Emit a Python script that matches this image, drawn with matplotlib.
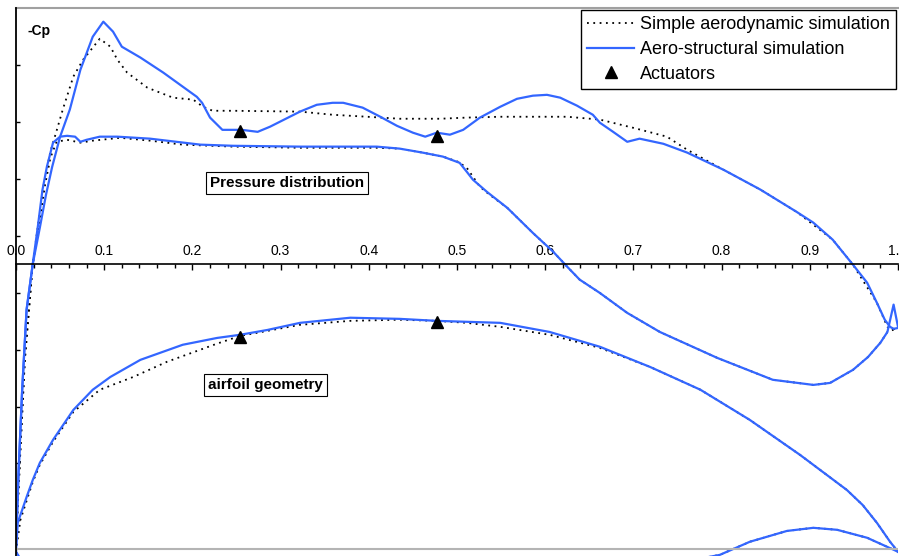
import numpy as np
import matplotlib
matplotlib.use("Agg")
import matplotlib.pyplot as plt
from matplotlib.ticker import MultipleLocator, FormatStrFormatter
from matplotlib.lines import Line2D

plt.rcParams['font.family'] = ['Liberation Sans', 'DejaVu Sans']

BLUE = '#3366ff'

# ---- pressure distribution (-Cp) ----
# aero-structural, suction side
x_cp_up_struct = [0, 0.003, 0.007, 0.012, 0.019, 0.027, 0.034, 0.041, 0.050, 0.061,
                  0.073, 0.087, 0.099, 0.110, 0.120, 0.141, 0.167, 0.205, 0.211, 0.220,
                  0.234, 0.256, 0.274, 0.288, 0.322, 0.341, 0.359, 0.371, 0.393, 0.413,
                  0.432, 0.450, 0.464, 0.477, 0.492, 0.507, 0.526, 0.549, 0.568, 0.586,
                  0.602, 0.617, 0.636, 0.654, 0.662, 0.677, 0.693, 0.707, 0.734, 0.761,
                  0.802, 0.844, 0.885, 0.904, 0.926, 0.949, 0.965, 0.976, 0.985, 0.991,
                  0.995, 1.0]
cp_up_struct = [-0.986, -0.723, -0.441, -0.160, 0.001, 0.128, 0.244, 0.342, 0.448, 0.543,
                0.683, 0.799, 0.852, 0.817, 0.764, 0.726, 0.673, 0.588, 0.567, 0.515,
                0.472, 0.472, 0.465, 0.483, 0.536, 0.560, 0.567, 0.567, 0.550, 0.518,
                0.486, 0.462, 0.448, 0.462, 0.455, 0.472, 0.515, 0.553, 0.581, 0.592,
                0.595, 0.585, 0.557, 0.525, 0.497, 0.465, 0.430, 0.441, 0.423, 0.392,
                0.332, 0.262, 0.184, 0.146, 0.086, -0.002, -0.065, -0.135, -0.195, -0.220,
                -0.227, -0.224]

# aero-structural, pressure side
x_cp_lo_struct = [0, 0.003, 0.007, 0.012, 0.019, 0.025, 0.030, 0.035, 0.042, 0.050,
                  0.058, 0.067, 0.073, 0.080, 0.095, 0.115, 0.152, 0.209, 0.246, 0.322,
                  0.359, 0.409, 0.435, 0.461, 0.484, 0.503, 0.511, 0.518, 0.534, 0.557,
                  0.586, 0.609, 0.625, 0.639, 0.662, 0.693, 0.730, 0.795, 0.858, 0.904,
                  0.923, 0.949, 0.966, 0.980, 0.988, 0.995, 1.0]
cp_lo_struct = [-0.986, -0.723, -0.441, -0.160, 0.001, 0.138, 0.261, 0.342, 0.427, 0.448,
                0.451, 0.448, 0.430, 0.437, 0.448, 0.448, 0.441, 0.420, 0.416, 0.413,
                0.413, 0.413, 0.406, 0.392, 0.378, 0.356, 0.325, 0.297, 0.254, 0.198,
                0.110, 0.044, -0.009, -0.054, -0.101, -0.171, -0.238, -0.329, -0.406, -0.424,
                -0.417, -0.371, -0.326, -0.276, -0.238, -0.142, -0.220]

# simple aerodynamic, suction side
x_cp_up_simple = [0, 0.005, 0.010, 0.019, 0.031, 0.039, 0.047, 0.053, 0.065, 0.076,
                  0.095, 0.107, 0.115, 0.126, 0.149, 0.178, 0.201, 0.212, 0.223, 0.246,
                  0.322, 0.359, 0.398, 0.435, 0.481, 0.511, 0.549, 0.586, 0.625, 0.662,
                  0.700, 0.738, 0.761, 0.802, 0.844, 0.885, 0.926, 0.949, 0.976, 0.988,
                  1.0]
cp_up_simple = [-0.986, -0.652, -0.336, 0.001, 0.272, 0.395, 0.479, 0.543, 0.659, 0.718,
                0.792, 0.764, 0.718, 0.673, 0.620, 0.585, 0.578, 0.553, 0.539, 0.539,
                0.536, 0.525, 0.518, 0.511, 0.511, 0.515, 0.518, 0.518, 0.518, 0.508,
                0.479, 0.448, 0.402, 0.332, 0.262, 0.184, 0.086, -0.002, -0.135, -0.220,
                -0.231]

# simple aerodynamic, pressure side
x_cp_lo_simple = [0, 0.005, 0.010, 0.019, 0.033, 0.039, 0.046, 0.058, 0.073, 0.087,
                  0.118, 0.152, 0.189, 0.246, 0.322, 0.409, 0.435, 0.461, 0.484, 0.501,
                  0.511, 0.526, 0.537, 0.557, 0.586, 0.609, 0.625, 0.639, 0.662, 0.693,
                  0.730, 0.795, 0.858, 0.904, 0.923, 0.949, 0.966, 0.980, 0.988, 1.0]
cp_lo_simple = [-0.986, -0.652, -0.336, 0.001, 0.279, 0.374, 0.430, 0.437, 0.427, 0.434,
                0.444, 0.434, 0.420, 0.413, 0.409, 0.409, 0.406, 0.392, 0.378, 0.360,
                0.339, 0.272, 0.244, 0.198, 0.110, 0.044, -0.009, -0.054, -0.101, -0.171,
                -0.238, -0.329, -0.406, -0.424, -0.417, -0.371, -0.326, -0.276, -0.238, -0.224]

# ---- airfoil geometry (drawn on the same scale) ----
x_geo_up_struct = [0, 0.002, 0.012, 0.019, 0.027, 0.042, 0.065, 0.087, 0.107, 0.141,
                   0.189, 0.228, 0.254, 0.285, 0.322, 0.379, 0.435, 0.477, 0.549, 0.605,
                   0.662, 0.719, 0.776, 0.832, 0.889, 0.942, 0.960, 0.976, 0.991, 1.0]
geo_up_struct = [-1.010, -0.908, -0.818, -0.758, -0.698, -0.617, -0.512, -0.441, -0.396, -0.336,
                 -0.283, -0.259, -0.248, -0.231, -0.206, -0.188, -0.192, -0.199, -0.206, -0.238,
                 -0.290, -0.361, -0.441, -0.547, -0.670, -0.793, -0.846, -0.908, -0.975, -1.010]

x_geo_up_simple = [0, 0.005, 0.019, 0.027, 0.042, 0.065, 0.095, 0.133, 0.171, 0.228,
                   0.254, 0.322, 0.379, 0.435, 0.477, 0.511, 0.549, 0.605, 0.662, 0.719,
                   0.776, 0.832, 0.889, 0.942, 0.960, 0.976, 0.991, 1.0]
geo_up_simple = [-1.010, -0.898, -0.765, -0.705, -0.624, -0.519, -0.441, -0.396, -0.343, -0.279,
                 -0.252, -0.213, -0.199, -0.195, -0.199, -0.206, -0.220, -0.248, -0.294, -0.361,
                 -0.441, -0.547, -0.670, -0.793, -0.846, -0.908, -0.975, -1.010]

x_geo_lo = [0, 0.01, 0.05, 0.2, 0.45, 0.7, 0.75, 0.798, 0.832, 0.874, 0.904, 0.931, 0.965, 1.0]
geo_lo_struct = [-1.010, -1.06, -1.12, -1.16, -1.15, -1.07, -1.05, -1.021, -0.975, -0.937,
                 -0.926, -0.933, -0.961, -1.010]
geo_lo_simple = [-1.010, -1.06, -1.12, -1.16, -1.15, -1.07, -1.05, -1.021, -0.975, -0.937,
                 -0.926, -0.933, -0.961, -1.010]

# actuators
x_act = [0.254, 0.477]
cp_act = [0.469, 0.451]
geo_act = [-0.255, -0.203]

fig = plt.figure(figsize=(8.99, 5.56), dpi=100)
ax = fig.add_axes([16 / 899, 0, 882 / 899, 548 / 556])

dot = (0, (1, 2.5))
for xs, ys in [(x_cp_up_simple, cp_up_simple), (x_cp_lo_simple, cp_lo_simple),
               (x_geo_up_simple, geo_up_simple), (x_geo_lo, geo_lo_simple)]:
    ax.plot(xs, ys, color='black', lw=1.3, ls=dot)
for xs, ys in [(x_cp_up_struct, cp_up_struct), (x_cp_lo_struct, cp_lo_struct),
               (x_geo_up_struct, geo_up_struct), (x_geo_lo, geo_lo_struct)]:
    ax.plot(xs, ys, color=BLUE, lw=1.6)
ax.plot(x_act, cp_act, '^', color='black', ms=8)
ax.plot(x_act, geo_act, '^', color='black', ms=8)

ax.set_xlim(0, 1.0)
ax.set_ylim(-1.025, 0.9)

# x axis drawn through -Cp = 0, labels above, ticks below
ax.spines['top'].set_position(('data', 0))
ax.spines['top'].set_linewidth(1.2)
ax.spines['bottom'].set_visible(False)
ax.spines['right'].set_visible(False)
ax.spines['left'].set_linewidth(1.3)
ax.xaxis.set_ticks_position('top')
ax.xaxis.set_major_locator(MultipleLocator(0.1))
ax.xaxis.set_minor_locator(MultipleLocator(0.02))
ax.xaxis.set_major_formatter(FormatStrFormatter('%.1f'))
ax.tick_params(axis='x', which='major', direction='in', length=4.5, width=1, labelsize=10,
               pad=4.5, colors='black')
ax.tick_params(axis='x', which='minor', direction='in', length=3, width=1)
ax.set_yticks(np.arange(-0.9, 0.8, 0.2))
ax.tick_params(axis='y', direction='in', length=3, width=1, labelleft=False)

ax.axhline(-1.0, color='#b4b4b4', lw=1.5)
ax.axhline(0.9, color='#a0a0a0', lw=1.5, clip_on=False)

ax.text(0.0136, 0.82, '-Cp', fontsize=10, fontweight='bold', va='center')
box = dict(boxstyle='square,pad=0.25', fc='white', ec='black', lw=0.8)
ax.text(0.307, 0.286, 'Pressure distribution', ha='center', va='center', fontsize=11,
        fontweight='bold', bbox=box)
ax.text(0.283, -0.424, 'airfoil geometry', ha='center', va='center', fontsize=11,
        fontweight='bold', bbox=box)

handles = [Line2D([], [], color='black', lw=1.3, ls=dot),
           Line2D([], [], color=BLUE, lw=1.6),
           Line2D([], [], color='black', marker='^', ls='none', ms=8)]
labels = ['Simple aerodynamic simulation', 'Aero-structural simulation', 'Actuators']
leg = ax.legend(handles, labels, loc='upper right', bbox_to_anchor=(1, 1), borderaxespad=0.12,
                fancybox=False, edgecolor='black', framealpha=1, fontsize=13,
                handlelength=2.6, handletextpad=0.3, labelspacing=0.42, borderpad=0.35)
leg.get_frame().set_linewidth(1.0)

fig.savefig('out.png', dpi=100)
